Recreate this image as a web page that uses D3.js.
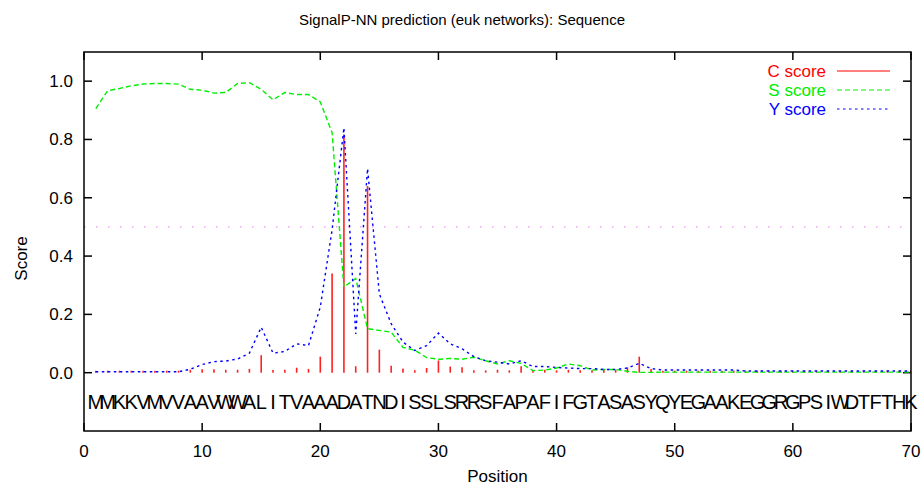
<!DOCTYPE html>
<html>
<head>
  <script src="https://cdnjs.cloudflare.com/ajax/libs/d3/7.8.5/d3.min.js" type="text/javascript"></script>
  <style>
    body { margin: 0; background: #fff; }
    svg text { font-family: "Liberation Sans", Arial, sans-serif; }
  </style>
</head>
<body>
  <svg id="chart" width="924" height="487"></svg>
  <script>

// protein sequence, one residue per position 1..70
var sequence = "MMKKVMVVAAVWWALITVAAADATNDISSLSRRSFAPAFIFGTASASYQYEGAAKEGGRGPSIWDTFTHK".split("");

var cScore = [
  0.007, 0.007, 0.007, 0.007, 0.007, 0.007, 0.007, 0.007, 0.010, 0.012,
  0.012, 0.010, 0.010, 0.013, 0.060, 0.009, 0.010, 0.017, 0.013, 0.055,
  0.340, 0.817, 0.022, 0.640, 0.079, 0.024, 0.014, 0.008, 0.016, 0.042,
  0.021, 0.019, 0.008, 0.008, 0.010, 0.008, 0.022, 0.008, 0.010, 0.008,
  0.010, 0.008, 0.008, 0.009, 0.009, 0.018, 0.055, 0.013, 0.007, 0.007,
  0.007, 0.007, 0.007, 0.007, 0.007, 0.007, 0.007, 0.007, 0.007, 0.007,
  0.007, 0.007, 0.007, 0.007, 0.007, 0.007, 0.007, 0.007, 0.007, 0.007
];

var sScore = [
  0.906, 0.967, 0.975, 0.984, 0.990, 0.992, 0.992, 0.990, 0.972, 0.969,
  0.959, 0.961, 0.992, 0.995, 0.972, 0.936, 0.961, 0.954, 0.954, 0.929,
  0.823, 0.294, 0.323, 0.151, 0.145, 0.139, 0.087, 0.077, 0.052, 0.046,
  0.049, 0.046, 0.053, 0.041, 0.030, 0.041, 0.032, 0.007, 0.009, 0.016,
  0.030, 0.024, 0.009, 0.011, 0.011, 0.005, 0.001, 0.001, 0.002, 0.002,
  0.002, 0.002, 0.002, 0.002, 0.002, 0.002, 0.002, 0.002, 0.002, 0.002,
  0.002, 0.002, 0.002, 0.002, 0.002, 0.002, 0.002, 0.002, 0.002, 0.002
];

var yScore = [
  0.003, 0.003, 0.003, 0.003, 0.003, 0.003, 0.003, 0.003, 0.012, 0.028,
  0.038, 0.040, 0.047, 0.067, 0.156, 0.067, 0.073, 0.099, 0.093, 0.225,
  0.490, 0.840, 0.133, 0.700, 0.270, 0.168, 0.105, 0.076, 0.093, 0.136,
  0.099, 0.082, 0.055, 0.041, 0.036, 0.030, 0.041, 0.021, 0.021, 0.018,
  0.016, 0.014, 0.014, 0.011, 0.011, 0.016, 0.032, 0.014, 0.009, 0.009,
  0.009, 0.009, 0.009, 0.009, 0.009, 0.006, 0.006, 0.006, 0.006, 0.006,
  0.006, 0.006, 0.006, 0.006, 0.006, 0.006, 0.006, 0.006, 0.006, 0.006
];

var threshold = 0.5;
var xTicks = [0, 10, 20, 30, 40, 50, 60, 70];
var yTicks = [0.0, 0.2, 0.4, 0.6, 0.8, 1.0];

var svg = d3.select("#chart");
var plotLeft = 84, plotRight = 911, plotTop = 52, plotBottom = 431;

var x = d3.scaleLinear().domain([0, 70]).range([plotLeft, plotRight]);
var y = d3.scaleLinear().domain([-0.2, 1.1]).range([plotBottom, plotTop]);

svg.append("defs").append("clipPath").attr("id", "plotclip")
  .append("rect").attr("x", plotLeft).attr("y", plotTop)
  .attr("width", plotRight - plotLeft).attr("height", plotBottom - plotTop);

// title
svg.append("text")
  .attr("x", 462).attr("y", 25)
  .attr("text-anchor", "middle")
  .style("font-size", "15px")
  .text("SignalP-NN prediction (euk networks): Sequence");

// ticks, mirrored and pointing inward like gnuplot
var tickLen = 8;
var tg = svg.append("g").attr("stroke", "#000").attr("stroke-width", 1.5);
xTicks.forEach(function(t) {
  tg.append("line").attr("x1", x(t)).attr("x2", x(t)).attr("y1", plotBottom).attr("y2", plotBottom - tickLen);
  tg.append("line").attr("x1", x(t)).attr("x2", x(t)).attr("y1", plotTop).attr("y2", plotTop + tickLen);
  svg.append("text").attr("x", x(t)).attr("y", 457)
    .attr("text-anchor", "middle").style("font-size", "17px").text(t);
});
yTicks.forEach(function(t) {
  tg.append("line").attr("x1", plotLeft).attr("x2", plotLeft + tickLen).attr("y1", y(t)).attr("y2", y(t));
  tg.append("line").attr("x1", plotRight).attr("x2", plotRight - tickLen).attr("y1", y(t)).attr("y2", y(t));
  svg.append("text").attr("x", 73).attr("y", y(t) + 6)
    .attr("text-anchor", "end").style("font-size", "17px").text(d3.format(".1f")(t));
});

// axis labels
svg.append("text")
  .attr("transform", "translate(27," + ((plotTop + plotBottom) / 2 + 17) + ") rotate(-90)")
  .attr("text-anchor", "middle").style("font-size", "17px").text("Score");
svg.append("text")
  .attr("x", (plotLeft + plotRight) / 2).attr("y", 482)
  .attr("text-anchor", "middle").style("font-size", "17px").text("Position");

var plot = svg.append("g").attr("clip-path", "url(#plotclip)");

// threshold
plot.append("line")
  .attr("x1", plotLeft).attr("x2", plotRight)
  .attr("y1", y(threshold)).attr("y2", y(threshold))
  .attr("stroke", "#f090f0").attr("stroke-width", 1.2)
  .attr("stroke-dasharray", "1.5,10.5");

// C score impulses
plot.selectAll(".cbar")
  .data(cScore)
  .enter().append("line")
  .attr("class", "cbar")
  .attr("x1", function(d, i) { return x(i + 1); })
  .attr("x2", function(d, i) { return x(i + 1); })
  .attr("y1", y(0))
  .attr("y2", function(d) { return y(d); })
  .attr("stroke", "#ff2020").attr("stroke-width", 1.6);

var line = d3.line()
  .x(function(d, i) { return x(i + 1); })
  .y(function(d) { return y(d); });

plot.append("path").datum(sScore)
  .attr("d", line).attr("fill", "none")
  .attr("stroke", "#00ee00").attr("stroke-width", 1.4)
  .attr("stroke-dasharray", "5,3");

plot.append("path").datum(yScore)
  .attr("d", line).attr("fill", "none")
  .attr("stroke", "#0000ff").attr("stroke-width", 1.4)
  .attr("stroke-dasharray", "2.5,3.5");

// sequence letters under the zero line
svg.selectAll(".res")
  .data(sequence)
  .enter().append("text")
  .attr("class", "res")
  .attr("x", function(d, i) { return x(i + 1); })
  .attr("y", 409)
  .attr("text-anchor", "middle")
  .style("font-size", "20px")
  .text(function(d) { return d; });

// legend
var legendItems = [
  { name: "C score", color: "#ff0000", dash: null },
  { name: "S score", color: "#00ee00", dash: "5,3" },
  { name: "Y score", color: "#0000ff", dash: "2.5,3.5" }
];
legendItems.forEach(function(d, i) {
  var ly = 71 + i * 19;
  svg.append("text").attr("x", 826).attr("y", ly + 6)
    .attr("text-anchor", "end").style("font-size", "17px")
    .attr("fill", d.color).text(d.name);
  svg.append("line").attr("x1", 837).attr("x2", 890).attr("y1", ly).attr("y2", ly)
    .attr("stroke", d.color).attr("stroke-width", 1.2)
    .attr("stroke-dasharray", d.dash);
});

// frame
svg.append("rect")
  .attr("x", plotLeft).attr("y", plotTop)
  .attr("width", plotRight - plotLeft).attr("height", plotBottom - plotTop)
  .attr("fill", "none").attr("stroke", "#000").attr("stroke-width", 1.5);
  </script>
</body>
</html>
